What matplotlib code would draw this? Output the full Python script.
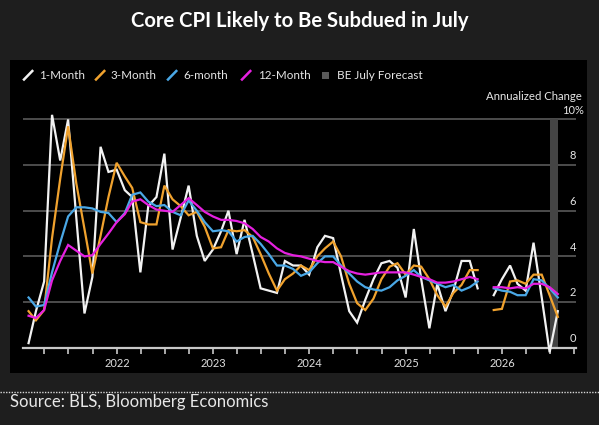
import numpy as np
import pandas as pd
import matplotlib
matplotlib.use("Agg")
import matplotlib.pyplot as plt
import matplotlib.dates as mdates
import matplotlib.transforms as mtransforms
from matplotlib.lines import Line2D
from matplotlib.patches import Rectangle

# ---------------- data ----------------
months = pd.date_range("2021-01-31", periods=67, freq="ME")
nan = np.nan
one_month = [0.2, 1.6, 2.9, 10.2, 8.2, 10.0, 5.7, 1.5, 3.1, 8.8, 7.7, 7.8,
             6.9, 6.6, 3.3, 6.2, 6.6, 8.5, 4.3, 5.7, 7.1, 4.9, 3.8, 4.3,
             5.1, 6.0, 4.1, 5.6, 4.1, 2.6, 2.5, 2.4, 3.8, 3.6, 3.6, 3.2,
             4.4, 4.9, 4.8, 3.2, 1.6, 1.1, 2.1, 3.0, 3.7, 3.8, 3.5, 2.2,
             5.2, 3.0, 0.85, 2.8, 1.6, 2.5, 3.8, 3.8, 2.6, nan, 2.3, 3.0,
             3.6, 2.8, 2.5, 4.6, 2.2, -0.2, 1.6]
three_month = [1.6, 1.2, 1.65, 4.8, 7.4, 9.7, 7.2, 5.2, 3.25, 4.9, 6.6, 8.1,
               7.5, 7.0, 5.5, 5.4, 5.4, 7.1, 6.5, 6.2, 5.8, 5.95, 5.3, 4.35,
               4.4, 5.15, 5.1, 5.15, 4.85, 4.1, 3.25, 2.5, 3.0, 3.25, 3.6, 3.4,
               4.0, 4.35, 4.65, 4.0, 2.8, 1.95, 1.65, 2.15, 3.0, 3.55, 3.7, 3.2,
               3.6, 3.55, 3.0, 2.3, 1.8, 2.4, 2.75, 3.4, 3.4, nan, 1.65, 1.7,
               2.9, 2.95, 2.8, 3.2, 3.2, 2.3, 1.35]
six_month = [2.2, 1.8, 1.87, 3.3, 4.6, 5.75, 6.15, 6.15, 6.1, 5.95, 5.9, 5.5,
             5.9, 6.7, 6.8, 6.4, 6.2, 6.25, 5.95, 5.8, 6.45, 6.0, 5.5, 5.1,
             5.15, 5.1, 4.65, 4.85, 4.9, 4.55, 4.1, 3.6, 3.6, 3.45, 3.15, 3.3,
             3.7, 4.0, 4.0, 3.6, 3.25, 2.9, 2.65, 2.55, 2.5, 2.65, 2.95, 3.15,
             3.4, 3.1, 2.95, 2.8, 2.65, 2.75, 2.5, 2.65, 2.9, nan, 2.6, 2.5,
             2.45, 2.3, 2.3, 3.0, 2.95, 2.6, 2.2]
twelve_month = [1.4, 1.3, 1.65, 2.95, 3.8, 4.5, 4.25, 4.0, 4.05, 4.55, 5.0, 5.5,
                5.85, 6.4, 6.5, 6.25, 6.05, 6.0, 5.95, 6.25, 6.55, 6.25, 5.95, 5.75,
                5.6, 5.6, 5.55, 5.45, 5.2, 4.85, 4.65, 4.35, 4.15, 4.05, 4.0, 3.9,
                3.8, 3.75, 3.75, 3.55, 3.35, 3.25, 3.2, 3.25, 3.3, 3.3, 3.3, 3.3,
                3.2, 3.1, 3.0, 2.85, 2.85, 2.9, 3.0, 3.1, 3.0, nan, 2.65, 2.65,
                2.6, 2.65, 2.6, 2.8, 2.8, 2.65, 2.35]
series_names = ["1-Month", "3-Month", "6-month", "12-Month"]
forecast_month = "2026-07"
forecast_label = "BE July Forecast"
y_ticks = [0, 2, 4, 6, 8, 10]
y_labels = ["0", "2", "4", "6", "8", "10%"]

# ---------------- style ----------------
W, H = 599, 425
colors = ["#f2f2f2", "#f0a22e", "#4aa8e6", "#e620e0"]
FONT = "Lato"
fig = plt.figure(figsize=(W / 100, H / 100), dpi=100)
fig.patch.set_facecolor("#1e1e1e")

def fx(px):
    return px / W

def fy(py):
    return 1 - py / H

# black panel
fig.patches.append(Rectangle((fx(10), fy(373)), fx(577), 313 / H,
                             transform=fig.transFigure, facecolor="black",
                             edgecolor="none", zorder=-10))

ax = fig.add_axes([fx(22.5), fy(361.4), fx(553.5), 253.4 / H])
ax.set_facecolor("none")

for vals, c in zip([one_month, three_month, six_month, twelve_month], colors):
    ax.plot(months, vals, color=c, lw=1.6, zorder=3, solid_joinstyle="miter")

# forecast bar
f0 = pd.Timestamp(forecast_month + "-01")
f1 = f0 + pd.offsets.MonthEnd(0)
ax.fill_between([f0, f1], y_ticks[0], y_ticks[-1], color="#444444",
                lw=0, zorder=2)

ax.set_xlim(months[0] - pd.Timedelta(days=23), months[-1] + pd.Timedelta(days=69))
ax.set_ylim(-0.6, 10.5)

for s in ["top", "right", "left"]:
    ax.spines[s].set_visible(False)
ax.spines["bottom"].set_position(("data", 0))
ax.spines["bottom"].set_color("#c8c8c8")
ax.spines["bottom"].set_linewidth(1.6)
ax.spines["bottom"].set_zorder(2.5)

ax.set_yticks(y_ticks)
ax.set_yticklabels([])
ax.tick_params(axis="y", length=0)
ax.yaxis.grid(True, color="#525252", lw=1.3)
ax.set_axisbelow(True)

ax.xaxis.set_major_locator(mdates.YearLocator())
ax.xaxis.set_major_formatter(mdates.DateFormatter("%Y"))
ax.xaxis.set_minor_locator(mdates.MonthLocator(bymonth=[4, 7, 10]))
ax.tick_params(axis="x", which="both", direction="out", length=4, width=1.2,
               color="#c8c8c8", labelcolor="#e0e0e0", labelsize=8, pad=3.5)
for lbl in ax.get_xticklabels():
    lbl.set_fontfamily(FONT)

blend = mtransforms.blended_transform_factory(ax.transAxes, ax.transData)
xl = (573 - 22.5) / 553.5
for v, t in zip(y_ticks, y_labels):
    ax.annotate(t, xy=(xl, v), xycoords=blend, xytext=(0, 4.2),
                textcoords="offset points", ha="center", va="baseline",
                color="#e6e6e6", fontsize=8, family=FONT, zorder=5,
                annotation_clip=False)

fig.text(fx(582), fy(96), "Annualized Change", ha="right", va="center",
         color="#e6e6e6", fontsize=8.2, family=FONT)

# title
fig.text(0.5, fy(21), "Core CPI Likely to Be Subdued in July", ha="center",
         va="center", color="white", fontsize=14.6, fontweight="bold", family=FONT)

# legend
leg_slash_x = [24, 96, 168, 242]
leg_text_x = [39, 110.5, 183, 258]
for sx, tx, c, name in zip(leg_slash_x, leg_text_x, colors, series_names):
    fig.add_artist(Line2D([fx(sx), fx(sx + 8.3)], [fy(79.5), fy(71)],
                          transform=fig.transFigure, color=c, lw=1.8))
    fig.text(fx(tx), fy(75.5), name, ha="left", va="center", color="#e6e6e6",
             fontsize=8.4, family=FONT)
fig.patches.append(Rectangle((fx(322), fy(79.3)), fx(7.3), 7.6 / H,
                             transform=fig.transFigure, facecolor="#5a5a5a",
                             edgecolor="none"))
fig.text(fx(337), fy(75.5), forecast_label, ha="left", va="center",
         color="#e6e6e6", fontsize=8.5, family=FONT)

# dotted separator and source
fig.add_artist(Line2D([0, 1], [fy(391.7), fy(391.7)], transform=fig.transFigure,
                      color="#d8d8d8", lw=1, ls=(0, (1, 1))))
fig.text(fx(10), fy(401.5), "Source: BLS, Bloomberg Economics", ha="left",
         va="center", color="#e8e8e8", fontsize=12, family=FONT)

fig.savefig("out.png", dpi=100, facecolor=fig.get_facecolor())
